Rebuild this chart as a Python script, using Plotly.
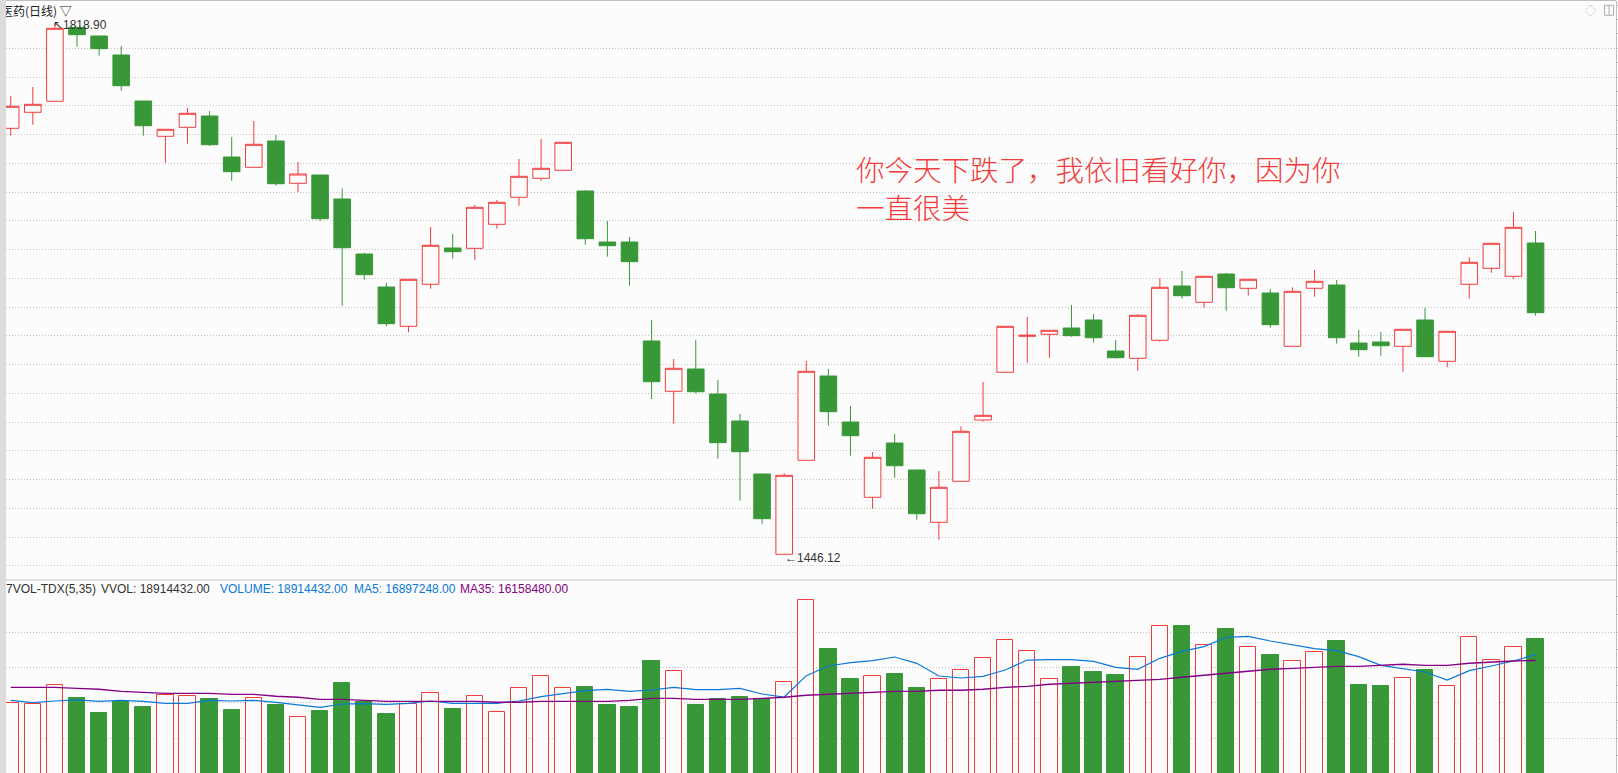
import plotly.graph_objects as go

W, H = 1618, 773

# ---- daily candles (index 0 = leftmost visible day) ----
opens = [
    1745.19, 1756.42, 1764.14, 1816.09, 1809.98, 1796.65, 1764.35, 1739.57, 1745.89, 1753.82,
    1725.04, 1717.81, 1736.27, 1706.58, 1712.40, 1695.55, 1656.94, 1633.77, 1606.18, 1635.67,
    1661.15, 1660.94, 1677.79, 1696.75, 1710.09, 1715.70, 1701.17, 1665.37, 1665.37, 1595.86,
    1560.55, 1576.21, 1558.66, 1539.70, 1502.50, 1446.12, 1512.11, 1571.29, 1539.00, 1486.14,
    1524.26, 1505.30, 1468.59, 1497.37, 1540.40, 1573.89, 1599.16, 1600.57, 1604.99, 1610.61,
    1588.84, 1583.72, 1596.36, 1634.48, 1623.03, 1642.90, 1632.86, 1629.56, 1592.14, 1632.86,
    1635.18, 1594.46, 1595.16, 1592.14, 1610.61, 1581.61, 1635.67, 1646.90, 1641.29, 1664.66,
]
highs = [
    1767.86, 1774.18, 1818.90, 1816.09, 1809.98, 1802.96, 1764.35, 1744.48, 1759.44, 1757.33,
    1739.08, 1750.31, 1740.48, 1721.53, 1712.40, 1703.07, 1657.85, 1636.58, 1639.18, 1675.90,
    1670.98, 1691.34, 1694.85, 1723.63, 1737.68, 1735.36, 1701.87, 1680.11, 1668.88, 1610.61,
    1583.23, 1596.57, 1568.49, 1544.62, 1502.50, 1502.99, 1581.82, 1576.21, 1550.23, 1517.94,
    1530.58, 1505.30, 1504.60, 1535.98, 1567.08, 1606.18, 1612.71, 1603.38, 1621.14, 1614.82,
    1596.57, 1614.82, 1639.88, 1645.01, 1641.29, 1643.60, 1639.18, 1632.37, 1633.56, 1645.71,
    1638.69, 1603.59, 1602.18, 1604.08, 1619.24, 1602.67, 1654.84, 1664.45, 1686.43, 1673.09,
]
lows = [
    1739.99, 1747.71, 1764.14, 1802.47, 1796.15, 1771.58, 1739.99, 1721.04, 1734.38, 1732.76,
    1708.40, 1717.81, 1704.89, 1700.47, 1680.32, 1620.65, 1638.90, 1606.18, 1601.97, 1632.58,
    1653.64, 1652.94, 1674.70, 1690.85, 1708.40, 1715.70, 1663.47, 1655.05, 1634.69, 1555.15,
    1537.81, 1559.15, 1513.24, 1483.75, 1467.60, 1446.12, 1512.11, 1536.40, 1515.34, 1478.13,
    1499.90, 1470.41, 1456.37, 1497.37, 1539.21, 1573.89, 1580.63, 1584.14, 1598.88, 1594.67,
    1583.44, 1575.01, 1595.37, 1625.56, 1619.24, 1617.14, 1627.67, 1605.20, 1592.14, 1626.96,
    1593.97, 1584.84, 1585.55, 1574.31, 1584.84, 1577.40, 1625.56, 1643.81, 1639.60, 1613.63,
]
closes = [
    1760.63, 1762.04, 1815.39, 1810.90, 1801.07, 1775.09, 1747.01, 1744.48, 1755.72, 1733.67,
    1714.72, 1733.95, 1706.29, 1713.10, 1681.72, 1661.36, 1642.41, 1608.01, 1639.18, 1663.05,
    1658.56, 1689.73, 1693.24, 1711.49, 1717.11, 1735.36, 1667.68, 1662.77, 1651.54, 1567.29,
    1576.70, 1560.27, 1524.47, 1518.15, 1471.11, 1501.58, 1574.59, 1546.23, 1529.38, 1514.22,
    1508.32, 1474.62, 1493.16, 1532.47, 1543.70, 1606.18, 1599.87, 1603.38, 1599.59, 1598.18,
    1584.14, 1613.91, 1633.56, 1627.67, 1641.29, 1633.28, 1639.18, 1607.31, 1630.76, 1637.78,
    1598.18, 1589.76, 1592.57, 1604.08, 1584.84, 1602.67, 1651.11, 1664.45, 1675.69, 1615.73,
]

# ---- volume and its moving averages ----
volumes = [
    10650000, 10520000, 12960000, 11330000, 9410000, 10820000, 10180000, 11680000, 11550000, 11200000,
    9790000, 11290000, 10430000, 8850000, 9660000, 13260000, 10820000, 9280000, 10520000, 11940000,
    9920000, 11550000, 9500000, 12580000, 14120000, 12580000, 12750000, 10430000, 10180000, 16090000,
    14760000, 10430000, 11170000, 11460000, 11240000, 13350000, 23890000, 17630000, 13770000, 14120000,
    14420000, 12620000, 13740000, 14890000, 16430000, 18750000, 17330000, 13740000, 15320000, 14670000,
    14290000, 16560000, 20540000, 20580000, 18100000, 20200000, 17850000, 16860000, 16050000, 17200000,
    18660000, 13000000, 12870000, 13860000, 14930000, 12840000, 19130000, 16180000, 17850000, 18914432,
]
vol_ma5 = [
    11030000, 10730000, 10950000, 11080000, 10900000, 11030000, 10900000, 10650000, 10650000, 11030000,
    10950000, 11030000, 10780000, 10430000, 10130000, 10560000, 10600000, 10520000, 10650000, 10950000,
    10650000, 10650000, 10650000, 10950000, 11500000, 11890000, 12270000, 12450000, 12190000, 12360000,
    12700000, 12400000, 12400000, 12570000, 11850000, 11460000, 14200000, 15440000, 15870000, 16130000,
    16600000, 15790000, 14160000, 13900000, 14120000, 14930000, 16210000, 16260000, 16260000, 16040000,
    15270000, 15020000, 16430000, 17330000, 17930000, 19130000, 19260000, 18660000, 18140000, 17670000,
    17410000, 16640000, 15530000, 15100000, 14670000, 13640000, 14840000, 15440000, 16090000, 16897248,
]
vol_ma35 = [
    12700000, 12700000, 12700000, 12570000, 12450000, 12190000, 12060000, 11930000, 11930000, 11930000,
    11800000, 11800000, 11550000, 11420000, 11160000, 11160000, 11030000, 10900000, 10900000, 10900000,
    10900000, 10900000, 10780000, 10780000, 10900000, 10900000, 10900000, 10900000, 11030000, 11290000,
    11290000, 11160000, 11160000, 11160000, 11290000, 11420000, 11680000, 11800000, 11930000, 12060000,
    12190000, 12190000, 12320000, 12320000, 12450000, 12700000, 12830000, 13090000, 13220000, 13350000,
    13470000, 13600000, 13730000, 13990000, 14250000, 14500000, 14760000, 15020000, 15140000, 15270000,
    15400000, 15400000, 15530000, 15660000, 15530000, 15530000, 15790000, 15960000, 16090000, 16158480,
]

title_text = "医药(日线) ▽"
note_lines = ["你今天下跌了，我依旧看好你，因为你", "一直很美"]
vol_title = "7VOL-TDX(5,35)"

days = list(range(len(opens)))

# ---- colours ----
BG = "#FCFCFC"
RED = "#F23C3C"
GREEN = "#389838"
BLUE = "#0A78D6"
PURPLE = "#840084"
GRID = "#C4C4C4"
FRAME = "#BEBEBE"
TXT = "#333333"

up = [c >= o for o, c in zip(opens, closes)]


def px_x(p):
    return p / W


def px_y(p):
    return 1 - p / H


fig = go.Figure()

fig.add_trace(go.Candlestick(
    x=days, open=opens, high=highs, low=lows, close=closes,
    increasing=dict(line=dict(color=RED, width=1), fillcolor=BG),
    decreasing=dict(line=dict(color=GREEN, width=1), fillcolor=GREEN),
    whiskerwidth=0, xaxis="x", yaxis="y", showlegend=False, hoverinfo="skip",
))

fig.add_trace(go.Bar(
    x=days, y=volumes, width=0.74,
    marker=dict(
        color=[BG if u else GREEN for u in up],
        line=dict(color=[RED if u else GREEN for u in up], width=1),
    ),
    xaxis="x2", yaxis="y2", showlegend=False, hoverinfo="skip",
))
fig.add_trace(go.Scatter(
    x=days, y=vol_ma5, mode="lines", line=dict(color=BLUE, width=1.2),
    xaxis="x2", yaxis="y2", showlegend=False, hoverinfo="skip",
))
fig.add_trace(go.Scatter(
    x=days, y=vol_ma35, mode="lines", line=dict(color=PURPLE, width=1.4),
    xaxis="x2", yaxis="y2", showlegend=False, hoverinfo="skip",
))

# ---- axes ----
x_dom = [px_x(6), px_x(1616)]
x_rng = [-0.2127, 72.64]
price_dom = [px_y(580), px_y(1)]
vol_dom = [0, px_y(580)]

price_grid = [1801.35 - 20.19 * n for n in range(19)]
vol_grid = [6154000 + 4540000 * n for n in range(4)]

common_x = dict(domain=x_dom, range=x_rng, showgrid=False, showticklabels=False,
                zeroline=False, showline=False, ticks="", fixedrange=True)

fig.update_layout(
    width=W, height=H,
    margin=dict(l=0, r=0, t=0, b=0),
    paper_bgcolor=BG, plot_bgcolor=BG,
    boxgap=0.25, boxgroupgap=0,
    bargap=0,
    xaxis=dict(**common_x, anchor="y", rangeslider=dict(visible=False)),
    xaxis2=dict(**common_x, anchor="y2", matches="x"),
    yaxis=dict(
        domain=price_dom, range=[1428.08, 1834.56], side="right", anchor="x",
        showline=True, linecolor=FRAME, linewidth=1,
        tickmode="array", tickvals=price_grid, showticklabels=False,
        ticks="outside", ticklen=2, tickcolor=FRAME,
        showgrid=True, gridcolor=GRID, gridwidth=1, griddash="1px,2px",
        zeroline=False, fixedrange=True,
        minor=dict(tickmode="linear", tick0=1801.35, dtick=10.095, ticks="outside",
                   ticklen=2, tickcolor=FRAME, showgrid=False),
    ),
    yaxis2=dict(
        domain=vol_dom, range=[1696000, 26494000], side="right", anchor="x2",
        showline=True, linecolor=FRAME, linewidth=1,
        tickmode="array", tickvals=vol_grid, showticklabels=False,
        ticks="outside", ticklen=2, tickcolor=FRAME,
        showgrid=True, gridcolor=GRID, gridwidth=1, griddash="1px,2px",
        zeroline=False, fixedrange=True,
        minor=dict(tickmode="linear", tick0=6154000, dtick=2270000, ticks="outside",
                   ticklen=2, tickcolor=FRAME, showgrid=False),
    ),
)

# ---- frame lines and corner icons ----
shapes = [
    dict(type="line", xref="paper", yref="paper", x0=px_x(6), x1=px_x(1616),
         y0=px_y(0.5), y1=px_y(0.5), line=dict(color=FRAME, width=1)),
    dict(type="line", xref="paper", yref="paper", x0=px_x(6), x1=px_x(1616),
         y0=px_y(580), y1=px_y(580), line=dict(color=FRAME, width=1)),
    dict(type="path", xref="paper", yref="paper",
         path=(f"M {px_x(1590.5)},{px_y(5)} L {px_x(1596)},{px_y(10.5)} "
               f"L {px_x(1590.5)},{px_y(16)} L {px_x(1585)},{px_y(10.5)} Z"),
         line=dict(color="#B0B0B0", width=1, dash="1px,1px")),
    dict(type="rect", xref="paper", yref="paper", x0=px_x(1604.5), x1=px_x(1613.5),
         y0=px_y(15.3), y1=px_y(5.3), line=dict(color="#B0B0B0", width=1)),
    dict(type="line", xref="paper", yref="paper", x0=px_x(1609), x1=px_x(1609),
         y0=px_y(15.3), y1=px_y(5.3), line=dict(color="#B0B0B0", width=1)),
]
fig.update_layout(shapes=shapes)

NUM_FONT = "Liberation Sans, Arial, sans-serif"
CJK_FONT = "Noto Sans CJK SC, sans-serif"


def label(text, x, y, size, color, family, weight=None):
    f = dict(size=size, color=color, family=family)
    if weight:
        f["weight"] = weight
    return dict(text=text, x=px_x(x), y=px_y(y), xref="paper", yref="paper",
                xanchor="left", yanchor="middle", align="left", showarrow=False,
                font=f, borderpad=0)


i_hi = highs.index(max(highs))
i_lo = lows.index(min(lows))

annotations = [
    label(title_text, 0, 10.5, 12, "#222222", CJK_FONT),
    label(f"↖{highs[i_hi]:.2f}", 52, 25, 12, TXT, NUM_FONT),
    label(f"←{lows[i_lo]:.2f}", 784, 558, 12, TXT, NUM_FONT),
    label(note_lines[0], 855, 168.5, 28.5, RED, CJK_FONT, 300),
    label(note_lines[1], 855, 206.5, 28.5, RED, CJK_FONT, 300),
    label(vol_title, 5, 588.5, 12, TXT, NUM_FONT),
    label(f"VVOL: {volumes[-1]:.2f}", 100, 588.5, 12, TXT, NUM_FONT),
    label(f"VOLUME: {volumes[-1]:.2f}", 219, 588.5, 12, BLUE, NUM_FONT),
    label(f"MA5: {vol_ma5[-1]:.2f}", 352.5, 588.5, 12, BLUE, NUM_FONT),
    label(f"MA35: {vol_ma35[-1]:.2f}", 459, 588.5, 12, PURPLE, NUM_FONT),
    # grey side strip, drawn last so it sits over the text at the left edge
    dict(text=" ", x=0, y=1, xref="paper", yref="paper", xanchor="left", yanchor="top",
         showarrow=False, width=6, height=H, bgcolor="#DCDCDC", borderpad=0, borderwidth=0),
]
fig.update_layout(annotations=annotations)

fig.write_html("out.html", config={"displayModeBar": False},
               post_script="document.body.style.margin='0';")
